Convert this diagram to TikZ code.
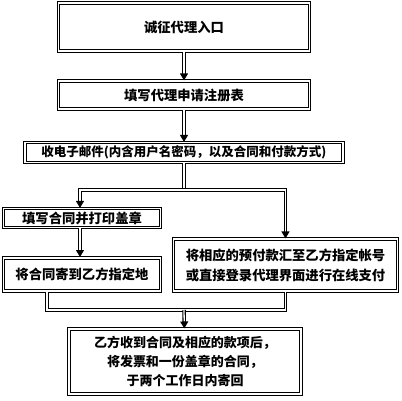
\documentclass[tikz,border=0pt]{standalone}
\usepackage{fontspec}
\setmainfont{Noto Sans CJK SC}
\usetikzlibrary{arrows.meta}
\tikzset{>={Triangle[width=8pt,length=7pt]}}
\tikzset{
    box/.style = {draw, double, double distance=1.3pt, line width=1.1pt, align=center, inner sep=0pt, font=\fontsize{13.3}{20}\selectfont\bfseries},
    link/.style = {double, double distance=1.3pt, line width=1.1pt}
}

\begin{document}
\begin{tikzpicture}[x=1pt, y=-1pt]
    \useasboundingbox (0,0) rectangle (402,400);
    \node[box, minimum width=251pt, minimum height=48pt] (entry) at (184,27) {诚征代理入口};
    \node[box, minimum width=251pt, minimum height=28pt] (form) at (184,95) {填写代理申请注册表};
    \node[box, minimum width=318pt, minimum height=20pt, font=\fontsize{12.5}{20}\selectfont\bfseries] (mail) at (184,152.5) {收电子邮件(内含用户名密码，以及合同和付款方式)};
    \node[box, minimum width=157pt, minimum height=19pt] (sign) at (82,218) {填写合同并打印盖章};
    \node[box, minimum width=157pt, minimum height=33pt] (post) at (82,274.5) {将合同寄到乙方指定地};
    \node[box, minimum width=224pt, minimum height=52pt] (pay) at (285.5,265) {将相应的预付款汇至乙方指定帐号\\或直接登录代理界面进行在线支付};
    \node[box, minimum width=232pt, minimum height=65pt, font=\fontsize{13}{19}\selectfont\bfseries] (back) at (185,361.5) {乙方收到合同及相应的款项后，\\将发票和一份盖章的合同，\\于两个工作日内寄回};
    \coordinate (fork) at (184,190);
    \coordinate (join) at (184,310);
    \coordinate (signin) at (80,190);
    \coordinate (signout) at (80,228);
    \coordinate (postin) at (80,257);
    \coordinate (postout) at (47,292);
    \coordinate (turn) at (47,310);
    \draw[link, ->] (entry) -- (form);
    \draw[link, ->] (form) -- (mail);
    \draw[link] (mail) -- (fork);
    \draw[link, ->] (fork) -- (signin) -- (sign.north -| signin);
    \draw[link, ->] (fork) -| (pay);
    \draw[link, ->] (signout) -- (postin);
    \draw[link] (postout) -- (turn) -- (join) -| (pay.south);
    \draw[link, ->] (join) -- (back);
\end{tikzpicture}
\end{document}
